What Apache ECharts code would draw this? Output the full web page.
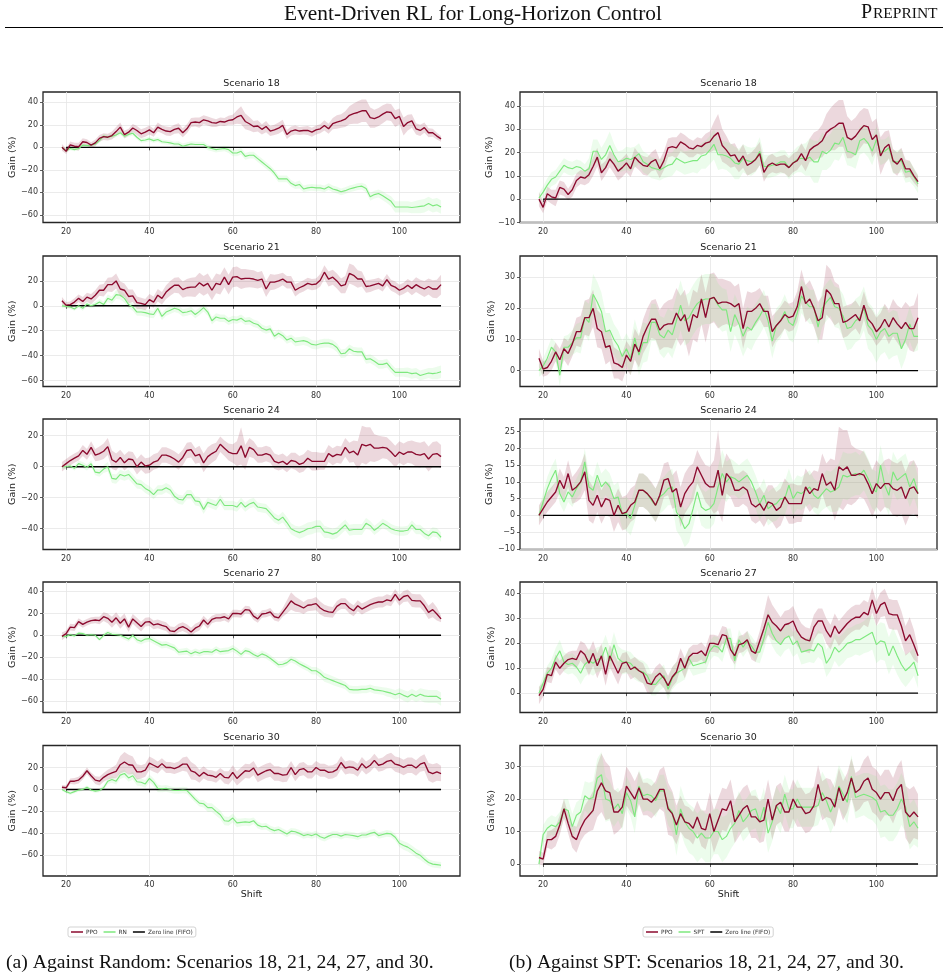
<!DOCTYPE html>
<html>
<head>
    <meta charset="utf-8">
    <title>Event-Driven RL for Long-Horizon Control</title>
    <script src="https://cdn.jsdelivr.net/npm/echarts@6/dist/echarts.min.js"></script>
    <style>
        html, body { margin: 0; padding: 0; background: #fff; }
        #main { width: 948px; height: 979px; }
    </style>
</head>
<body>
<div id="main"></div>
<script type="text/javascript">
// shift index on the x axis
var SHIFTS = [19,20,21,22,23,24,25,26,27,28,
    29,30,31,32,33,34,35,36,37,38,
    39,40,41,42,43,44,45,46,47,48,
    49,50,51,52,53,54,55,56,57,58,
    59,60,61,62,63,64,65,66,67,68,
    69,70,71,72,73,74,75,76,77,78,
    79,80,81,82,83,84,85,86,87,88,
    89,90,91,92,93,94,95,96,97,98,
    99,100,101,102,103,104,105,106,107,108,
    109,110];
var X_TICKS = [20, 40, 60, 80, 100];
var SCENARIOS = ['18', '21', '24', '27', '30'];

// PPO mean gain (%) - same curve in both columns
var PPO_18 = [0,-3.5,2.3,1,0.5,5,4.3,2,4,8,
    9.5,9,10.5,14,18,11.3,13.5,17.2,15,12,
    13.5,15.5,13,18,16,14.5,14,16,17,13,
    16.5,22,22.5,22,24.5,23.5,22,21.5,23,22.5,
    24,24.5,27,28.5,23,21,18.5,19,16,18.5,
    14.5,15.5,17,19.5,11.5,14.5,15.5,14.5,15,15,
    13.5,15.5,16.5,19.5,16.5,21,22.5,23.5,25,28.5,
    30,31,32.5,32.5,26.5,25.5,27,29.5,31.5,31,
    25.5,27.5,18.5,22,23.5,16.5,15,17.5,13,13,
    10,7.5];
var PPO_21 = [4,0.5,1,3,6,3.5,7,5.5,8.5,12.5,
    12.5,17,17,20,13.5,12.5,7.5,8,2.5,2,
    1,5,3,8.5,6,11,14,16.5,16.5,13,
    14.5,15,15,18.5,16,18,12.5,18,17,23,
    17,23,23.5,21.5,22,22,21.5,20.5,21.5,13.5,
    19,19,20,21.5,19,19,12.5,14.5,16,18,
    17,17.5,20.5,27,21.5,23,20,16,17,26,
    24.5,21.5,21.5,15.5,16,17,18,16,21,16.5,
    15,12.5,14,16.5,14,17,15,13.5,15.5,13.5,
    13.5,17];
var PPO_24 = [0,2,4,5.5,7,10.5,8,12.5,7.5,8.5,
    10,13,4.5,3,6,2.5,5,4.5,0,3,
    0.5,1,3,4,7.5,7.5,6.5,5,3,6,
    10.5,11,7,8,2.5,6.5,8.5,10,14.5,12,
    9.5,8.5,8.5,13.5,6,12.5,11,7.5,7.5,8.5,
    7.5,3.5,2.5,3.5,1.5,4,3.5,1.5,2.5,5.5,
    3.5,3.5,3.5,3.5,8.5,6.5,8,7.5,12.5,9,
    10,7.5,14.5,13.5,14.5,12,12,12.5,12,9.5,
    6.5,9.5,8,9.5,9.5,8,7.5,8.5,5,8,
    8.5,6.5];
var PPO_27 = [-1,1.5,7.5,7,12.5,10,12,13.5,14,13.5,
    17,15.5,12,16,11,15,7.5,15,11.5,8,
    12,12.5,9.5,10.5,9,8,4,3.5,6.5,8,
    6,3,6.5,8.5,14,10,14.5,16,16,17,
    15,20,20,19.5,23.5,23,17.5,15,19.5,20,
    21.5,17,16,21,26,31.5,28.5,27,25,27.5,
    28,29,25,22.5,21.5,21,26.5,29,29,25,
    22.5,27,24,26,28,29.5,30.5,30.5,32.5,31.5,
    37.5,32,35.5,36.5,32,31.5,31.5,27,21,23.5,
    19.5,15];
var PPO_30 = [2,1.5,7.5,7.5,8.5,12,17,12.5,8.5,7.5,
    11,13.5,15,16.5,22.5,25,22.5,22,16,16,
    17.5,24,22,20,23.5,20,20,19,20.5,23,
    23,17,15.5,12,15.5,13,12.5,11,14.5,11,
    10.5,15.5,10,13.5,17,16.5,19.5,13,15,17,
    18,14.5,14.5,13,13.5,20,13.5,18,19,16,
    16,20,17.5,17.5,15.5,16,18,24.5,19.5,20.5,
    20,17.5,23.5,19.5,22,26.5,22,23,25.5,26.5,
    23,22,20,22,22,19.5,23,24.5,16,14.5,
    16,14.5];

// RN (random dispatch) mean gain (%)
var RN_18 = [0,-3,-1,-2,-1,2,1.5,2,3,6,
    10,9,10,11,13,10,11.5,12.5,9,6,
    6.5,7.5,6,7,5,4.5,4,3,3,1,
    2,3,2.5,2.5,2.5,0,-1,-2,-1.5,-1,
    -2,-5,-5,-3.5,-8,-7,-7,-10,-13,-16,
    -19,-23,-28,-28,-28,-32,-34,-33,-37,-36,
    -35.5,-36,-36,-37,-35,-37,-38,-39.5,-38.5,-37,
    -36,-35,-34.5,-36.5,-44,-42,-41,-43,-45.5,-48,
    -53,-53,-53,-53,-53.5,-53,-52.5,-52,-50,-52,
    -51,-53];
var RN_21 = [0,-0.5,-1,-2.5,0,-2,1.5,0,1,3,
    1,6,4.5,9,8.5,6,1,-1,-5,-5,
    -5.5,-6.5,-7,-2,-8.5,-5,-3.5,-2,-3,-5.5,
    -5,-4,-7,-4.5,-1.5,-5,-12,-9,-10,-10,
    -12.5,-11,-11.5,-10,-12.5,-12,-14,-15,-18,-19.5,
    -18.5,-24.5,-22,-24,-27.5,-26,-29,-28.5,-28,-29,
    -31,-31.5,-30.5,-30,-30,-31,-33.5,-38.5,-38,-34.5,
    -36.5,-37,-37,-43,-42.5,-44.5,-47,-47,-46,-50,
    -53.5,-53.5,-53.5,-53.5,-54.5,-54,-56,-55,-54,-54.5,
    -54,-53];
var RN_24 = [0,0,0.5,-1,2,1,-0.5,2,-3.5,-4,
    -1.5,0,-7.5,-8,-5,-6,-5,-8,-11,-11.5,
    -14,-15.5,-18,-15,-15,-13.5,-15,-19,-21,-21.5,
    -18,-18,-22,-22.5,-27.5,-23,-24,-25,-21,-25,
    -25,-25,-26,-23,-26,-24,-23,-26,-26.5,-27,
    -30,-33,-34.5,-32.5,-36,-40,-41.5,-42.5,-41.5,-40,
    -39.5,-38.5,-38.5,-42,-42.5,-43.5,-42.5,-40,-37.5,-41,
    -40.5,-40.5,-40.5,-36.5,-38,-41,-39,-36.5,-38,-40,
    -41,-41.5,-41.5,-41,-37.5,-40.5,-40.5,-43,-44.5,-42,
    -42.5,-45.5];
var RN_27 = [-1,-1,0.5,-0.5,2,1.5,0,0.5,0,-4,
    0,2.5,1,0.5,0,-1.5,-3.5,0,-4,-5.5,
    -3.5,-3,-5,-7,-9,-8.5,-10,-11.5,-15.5,-15,
    -14.5,-17,-15,-16.5,-15,-15,-15.5,-13,-15,-14.5,
    -14,-12,-14.5,-17.5,-14,-15,-17.5,-19.5,-17,-18.5,
    -21,-24,-27,-26.5,-25,-22,-23.5,-26,-28,-30,
    -32.5,-32.5,-35,-38.5,-40,-41.5,-43,-44.5,-46,-49.5,
    -50,-50,-49.5,-49.5,-48.5,-50,-50.5,-51,-52,-53,
    -54.5,-53,-55,-56.5,-54,-56,-54,-55.5,-56,-56,
    -56,-58.5];
var RN_30 = [0,-2,-3.5,-2,-0.5,0,2,-0.5,-1.5,-1,
    1.5,7.5,9,7.5,13,14.5,10.5,12.5,7,6.5,
    5,10,6.5,1,0.5,1,0,-1,-1,-0.5,
    -1,-5,-9,-12.5,-13,-16.5,-16.5,-20,-23,-28.5,
    -29,-26,-30.5,-30,-29.5,-30,-28.5,-32.5,-34,-33.5,
    -36,-37.5,-36.5,-38.5,-40.5,-38,-38.5,-40,-42,-41,
    -42,-40.5,-43,-44.5,-42.5,-41,-41,-42.5,-41,-41.5,
    -42,-43,-41.5,-41.5,-40,-39,-42,-41,-40,-40.5,
    -43.5,-49,-51,-52.5,-55,-58,-60,-63.5,-66.5,-68,
    -68.5,-69];

// SPT mean gain (%)
var SPT_18 = [0.5,3,6,8.5,9.5,12,14.5,13.5,13,14,
    13.5,12,13,20.5,20.5,17,19,23,19,16,
    16.5,17.5,17,18,19.5,16,15,13.5,13,12.5,
    13.5,14.5,15,17.5,16.5,15.5,16,16.5,16.5,18.5,
    19,21,23.5,19,19,18.5,17.5,15.5,15,17.5,
    16.5,16,17,20.5,14,14,14.5,15,16,16,
    13.5,15.5,17,17.5,17,18,16,16,20.5,19.5,
    21,24,23.5,26.5,20.5,20,19,25,26,24,
    20.5,25.5,20,20.5,22,16,16,16.5,11.5,12,
    9.5,6.5];
var SPT_21 = [0,1.5,4,7.5,6,-1.5,7.5,7.5,9,10.5,
    10.5,17,15.5,24.5,22,19,12.5,13,10,8,
    4.5,7,4,10.5,5,9,9,15.5,15.5,11.5,
    10.5,13,11.5,16,21,16,17,19.5,21.5,22.5,
    23,23,23.5,21,19.5,19.5,12.5,18,15,11,
    14,13,15.5,17.5,20,16,9.5,14.5,16,19,
    15.5,14.5,18.5,24,22,20.5,20.5,14,20,22,
    23.5,20.5,20,17.5,13.5,14,16,17,20,14.5,
    13,10,12.5,13.5,11,12,12,7,10,15,
    11,11];
var SPT_24 = [0,4,8,11,13.5,6.5,4,7,5.5,8,
    10,16,8.5,7.5,12,8.5,10,8.5,5,5.5,
    0.5,0.5,-1,3,7.5,7.5,6.5,4.5,3,5.5,
    6.5,8,8.5,1,-1,-4,-2.5,2,7,2.5,
    1.5,2,3.5,8.5,12.5,10,11.5,11,10,11,
    12,10,7,3.5,6,2,3,3.5,5,5,
    9,5,7,6.5,7.5,8.5,6,5,6.5,8,
    7,7.5,8.5,12,11.5,12,12.5,12,13.5,11,
    8,7,15,9,6,13,10.5,11.5,12.5,8.5,
    11,6.5];
var SPT_27 = [0,4,8,10,14,17,12.5,11.5,12,10.5,
    8,11.5,13,12,13.5,14,18.5,13,19.5,14,
    12.5,12.5,12,10,9,8.5,7,3.5,3.5,5.5,
    7,1.5,6,8,9,10,14,11,11.5,12,
    12.5,17,19,18.5,16.5,22,22,13,21.5,18.5,
    21,19,16.5,16.5,22,28.5,24,21,19.5,22,
    23,19.5,21,16.5,17,17.5,17,20,18.5,12,
    14.5,18.5,16.5,18,20,20.5,21.5,21.5,22.5,23.5,
    24.5,19.5,21,20.5,15,19,15,11.5,9,10.5,
    12.5,7];
var SPT_30 = [0,9,11,12,11.5,13,17,16.5,11.5,15,
    16,21,20,20.5,26.5,27.5,20,19.5,17,18.5,
    15.5,22,19.5,14.5,24,21,21.5,21,19.5,22.5,
    22.5,17.5,16,9,17,13,11,10,8,9.5,
    8,8,10,10,7.5,8.5,11,12.5,16.5,13,
    14.5,16.5,17,13,17.5,9.5,13,18,15.5,21.5,
    17,17,20,17.5,17.5,17.5,17.5,18,22,19.5,
    16,19,24,21.5,19,27,20.5,21,21.5,21,
    20.5,19.5,16,16.5,15,15,17,20,17.5,11.5,
    13,11];

// half-width of the shaded spread around each mean
var PPO_18_SD = [3,2.5,3,3,3.5,3,3,2.5,3,3,
    3,3,3.5,4,4,3.5,3,3.5,4,4,
    4,4,3.5,4,3.5,4,4,4,4.5,4,
    4,4,4,4.5,4,4,4,3.5,3.5,3.5,
    4,4.5,6,8,7,6,5,5,4.5,5,
    4.5,4.5,5,5,4,4,4,3.5,3.5,4,
    4,4,4,4.5,4.5,5,6,6,7,8,
    9,10,10,10,9,8,8,8,7.5,7.5,
    7.5,7,8,7,6,5,5,4.5,4,3.5,
    3,2.5];
var PPO_21_SD = [3,2.5,2.5,3,3,3.5,3.5,4,4,4.5,
    5,5.5,6,6,6,5.5,5.5,5,5,4.5,
    4.5,4.5,4.5,5,5,5.5,6,6,6.5,6.5,
    7,7.5,8,8,8,8,8,8,8,8,
    8,8,8,8,7.5,7,7,6.5,6.5,6.5,
    6.5,6,5.5,5,5,5,5,4.5,4.5,4.5,
    4.5,4.5,5,5.5,6,6,6,6,7,8,
    8,7,6,5,5,4.5,4.5,4.5,4.5,4.5,
    4.5,4.5,4.5,5,5.5,6,6,6.5,6.5,7,
    7.5,8];
var PPO_24_SD = [3,3,3,3,3,3.5,3.5,4,4,4.5,
    5,5.5,6,5.5,5,5,5,5,5,5,
    5,5,5,5,5,5,5,5,5,5,
    5,5,5,5.5,6,6,6,5.5,5,5,
    5.5,6,8,12,8,6,5.5,5,5,5,
    5,5,5,5,5,5,5.5,5.5,5.5,5.5,
    6,6,5.5,5.5,5.5,5.5,5.5,5.5,6,6.5,
    7,9,12,12,11,9,8,7,7,7,
    7,7,7,7,7.5,8,8,8,8,8,
    8,7.5];
var PPO_27_SD = [3.5,3,3,3,3,3,3,3,3,3.5,
    4,4.5,5,5,5,5,4.5,4.5,4.5,4.5,
    4,4,4,4,4,4,4,4,4,4,
    4,4,4,4,4,4,3.5,3.5,3.5,3.5,
    3.5,3.5,3.5,3.5,3.5,3.5,3.5,3.5,3.5,3.5,
    3.5,3.5,3.5,4,6,8,7,6,5.5,5.5,
    5.5,6,6,5.5,5,5,5,5,5,5,
    5,5,5,5,5,5,5,5,5,5,
    5,5,5,5.5,6,6,6,6,6,7,
    6,3];
var PPO_30_SD = [2,2,2.5,3,3,3,3,3,3.5,4,
    4,4.5,5,6,8,9,9,8,7,6,
    6,6,6,5.5,5,5,5,5,5,6,
    7,8,7,6,5.5,5,5,5,5,5.5,
    6,6.5,6.5,6.5,6.5,6.5,6.5,6.5,6.5,6.5,
    6.5,6.5,6.5,6.5,6.5,6,6,6,6,6,
    6,6,6,6,6,6,6,6,6,6,
    6,6,6,6,6,6,6,6,6.5,7,
    7,7,7,7,7,7,7,7.5,8,8.5,
    8,7];

var RN_18_SD = [1.5,1.5,1.5,1.5,1.5,1.5,1.5,1.5,1.5,2,
    2,2,2,2,2,2,2,2,2,2,
    2,2,2,2,2,2,2,2,2.5,2.5,
    2.5,2.5,2.5,2.5,2.5,2.5,2.5,2.5,2.5,2.5,
    3,3,3,3,3,3,3,3,3,3,
    3,3,3,3,3,3,3,3.5,3,3,
    3,3,3,3,3,3,3,3,3,3,
    3,3,3,3.5,3.5,3.5,3.5,4,4,4.5,
    5,5,5,5,5,5.5,6,6,6,6,
    6,6];
var RN_21_SD = [1.5,1.5,1.5,1.5,1.5,2,2,2,2,2.5,
    2.5,3,3,3.5,3.5,3.5,3,3,3,3,
    3,3,3,3,3,3,3,3,3,3,
    3,3,3,3,3,3,3,3,3,3,
    3,3,3,3,3,3,3,3,3,3,
    3,3,3,3,3,3,3.5,3.5,3.5,3.5,
    3.5,3.5,3.5,3.5,3.5,3.5,3.5,3.5,3.5,3.5,
    3.5,3.5,3.5,3.5,3.5,3.5,3.5,3.5,3.5,3.5,
    3.5,3.5,3.5,4,4,4,4,4,4,4.5,
    5,5];
var RN_24_SD = [1.5,1.5,1.5,1.5,2,2,2,2,2,2.5,
    2.5,3,3,3,3,3,3,3,3,3,
    3,3,3,3,3,3,3,3,3,3,
    3,3,3,3,3,3,3,3,3,3,
    3,3,3,3,3,3,3,3,3,3,
    3,3,3,3.5,3.5,3.5,3.5,4,4,4,
    4,4,4,4,3.5,3.5,3.5,3.5,3.5,3.5,
    3.5,3.5,3.5,3.5,3,3,3,3,3,3,
    3,3,3,3,3,3,3,3,3,3,
    3,3];
var RN_27_SD = [1.5,1.5,1.5,1.5,1.5,1.5,1.5,1.5,1.5,1.5,
    2,2,2,2,2,2.5,2.5,2.5,3,3,
    3,3,3,3,3,3,3,3,3,3,
    3,3,3,3,3,3,3,3,3,3,
    3,3,3,3,3,3,3,3,3,3,
    3,3,3,3,3,3,3,3,3,3,
    3.5,3.5,4,4,4,4,4,3.5,3.5,3.5,
    3.5,3.5,3.5,3.5,3.5,3.5,3.5,3.5,4,4,
    4.5,4.5,5,5,5,5,5.5,6,6,6,
    6,6];
var RN_30_SD = [1.5,1.5,1.5,1.5,1.5,1.5,1.5,1.5,1.5,1.5,
    2,2.5,3,3,3.5,3.5,3.5,3.5,3.5,3.5,
    3.5,3.5,3.5,3.5,3,3,3,3,3,3,
    3,3,3,3,3.5,4,4,4,4,4,
    4,4,4,3.5,3.5,3.5,3,3,3,3,
    3,3,3,3,3,3,3,3,3,3,
    3,3,3,3,3,3,3,3,3,3,
    3,3,3,3,3,3,3,3,3,3,
    3,3.5,4,4,4,4,4,3.5,3,3,
    3,3];

var SPT_18_SD = [2,2.5,3,3,3,3,3,3,3,3,
    3,3,4.5,5,5,5,6,6,5,4.5,
    4.5,5,5,4.5,4.5,4.5,4.5,4.5,4.5,4.5,
    4.5,5,5,5,5,5,5,5,5.5,5.5,
    6,6,6.5,6.5,6,6,6.5,7,6.5,6,
    6,6,5.5,6,5,5,5,5,5,5,
    5,5,5.5,6,7,8,9,9,8,7,
    7,7,7,6.5,6,6,6,6,6,6,
    6,5.5,5.5,5,5,5,5,5,4.5,4.5,
    4,4];
var SPT_21_SD = [2,2.5,3,3,3,3.5,3.5,4,4,4.5,
    5,5.5,6,6.5,6.5,6,6,5.5,5,5,
    5,5,5.5,6,6.5,6.5,6,6,6,6,
    6.5,7,7.5,8,8,8,8,8,8,8,
    8,8,7.5,7,7,6.5,6.5,6.5,6.5,6.5,
    6.5,6.5,6,6,6,5.5,5.5,5.5,5.5,5.5,
    5.5,5.5,5.5,5.5,5.5,5.5,5.5,5.5,6,6,
    6,6.5,6.5,7,7,7,7,7,7,7.5,
    7.5,7.5,7.5,7.5,7.5,7.5,7,6.5,6,5.5,
    5,4.5];
var SPT_24_SD = [2,3,3.5,3.5,3.5,3,3,3,3,3,
    3.5,4,4,4,4,4,4,4,4,4.5,
    4.5,5,5,5,5,5,5,5,5,5,
    5,5,5.5,5.5,5.5,5.5,5.5,5.5,5.5,5.5,
    5.5,6,6,6,7,6,5.5,5,5,5,
    5,5,5,5,5,5,5,5,5,5,
    5,5,5,5,5,5,5,5,5,5.5,
    6,6.5,7,7,7,6.5,6.5,6,6,6,
    6,6,6,6,6,6,6,6,6,6,
    5.5,5];
var SPT_27_SD = [2.5,3,3,3.5,4,4.5,4,4,4,4,
    4.5,5,5,5,5,5,5,5,5,5,
    5,4.5,4.5,4.5,4.5,4.5,4.5,4.5,4.5,4.5,
    4.5,4.5,4.5,4.5,4.5,4.5,4,4,4,4,
    4,4,4,4,4,4,4,4,4,4,
    4,4,4,4.5,5,5,5,5,5,5,
    5,5,5,5,5,5,5,5.5,5.5,5.5,
    5.5,5.5,6,6,6,6,6,6.5,6.5,7,
    7,7.5,7.5,7.5,7.5,7.5,7.5,7,6.5,6,
    5.5,5];
var SPT_30_SD = [2,3,3,3,3,3,3,3.5,4,4,
    4,4.5,5,5,6,7,7,6,5.5,5,
    5,5,5,5,5,5,5,5,5,5,
    5,5.5,6,6.5,7,7,7.5,7.5,7.5,7.5,
    7.5,7.5,7,7,7,6.5,6.5,6,6,6,
    6,6,6,6,6,6,6,6,6,6,
    6,6,6,6,6,6,6,6,6.5,6.5,
    6.5,6.5,6.5,6.5,6.5,6.5,6.5,6.5,6.5,7,
    7,7.5,8,8,8,8,8,8,7.5,7,
    7,6];

// y-axis limits and tick labels, left column (vs RN) then right column (vs SPT)
var Y_LIM_RN  = [[-66.8, 49.2], [-64.8, 40], [-53.4, 30.8], [-70.7, 48.8], [-78.8, 40]];
var Y_LIM_SPT = [[-10, 45.9], [-5.1, 36.8], [-10.2, 28.8], [-7.8, 44.7], [-3.7, 36.5]];
var Y_TICKS_RN  = [[-60,-40,-20,0,20,40], [-60,-40,-20,0,20], [-40,-20,0,20], [-60,-40,-20,0,20,40], [-60,-40,-20,0,20]];
var Y_TICKS_SPT = [[-10,0,10,20,30,40], [0,10,20,30], [-10,-5,0,5,10,15,20,25], [0,10,20,30,40], [0,10,20,30]];

var PPO_ALL = [PPO_18, PPO_21, PPO_24, PPO_27, PPO_30];
var PPO_SD_ALL = [PPO_18_SD, PPO_21_SD, PPO_24_SD, PPO_27_SD, PPO_30_SD];
var RN_ALL = [RN_18, RN_21, RN_24, RN_27, RN_30];
var RN_SD_ALL = [RN_18_SD, RN_21_SD, RN_24_SD, RN_27_SD, RN_30_SD];
var SPT_ALL = [SPT_18, SPT_21, SPT_24, SPT_27, SPT_30];
var SPT_SD_ALL = [SPT_18_SD, SPT_21_SD, SPT_24_SD, SPT_27_SD, SPT_30_SD];

var PPO_COLOR = '#8b0a2e';
var BASE_COLOR = '#7ee87e';
var PPO_FILL = 'rgba(139,10,46,0.16)';
var BASE_FILL = 'rgba(144,238,144,0.17)';

var COL_LEFT = [43, 520];
var GRID_W = 417;
var ROW_TOP = [92, 256, 419, 582, 745.5];
var GRID_H = 130.5;
var TICK_FONT = 'DejaVu Sans';

var myChart = echarts.init(document.getElementById('main'));

function minusFmt(v) {
    return v < 0 ? '\u2212' + Math.abs(v) : String(v);
}

// shaded mean +/- spread, drawn as one polygon through the axes' own coords
function bandSeries(gi, mean, sd, color) {
    var pts = SHIFTS.map(function (x, i) {
        return [x, mean[i] - sd[i], mean[i] + sd[i]];
    });
    return {
        type: 'custom',
        name: 'band',
        xAxisIndex: gi,
        yAxisIndex: gi,
        silent: true,
        z: 1,
        data: pts,
        encode: { x: 0, y: [1, 2] },
        renderItem: function (params, api) {
            if (params.dataIndex !== 0) return null;
            var up = [], lo = [];
            for (var i = 0; i < pts.length; i++) {
                up.push(api.coord([pts[i][0], pts[i][2]]));
                lo.push(api.coord([pts[i][0], pts[i][1]]));
            }
            return {
                type: 'polygon',
                shape: { points: up.concat(lo.reverse()) },
                style: { fill: color }
            };
        }
    };
}

function pairs(vals) {
    return SHIFTS.map(function (x, i) { return [x, vals[i]]; });
}

var grids = [], xAxes = [], yAxes = [], series = [], graphics = [];

for (var c = 0; c < 2; c++) {
    for (var r = 0; r < 5; r++) {
        var gi = c * 5 + r;
        var lim = c === 0 ? Y_LIM_RN[r] : Y_LIM_SPT[r];
        var yt = c === 0 ? Y_TICKS_RN[r] : Y_TICKS_SPT[r];
        var base = c === 0 ? RN_ALL[r] : SPT_ALL[r];
        var baseSd = c === 0 ? RN_SD_ALL[r] : SPT_SD_ALL[r];
        var baseName = c === 0 ? 'RN' : 'SPT';

        grids.push({
            left: COL_LEFT[c], top: ROW_TOP[r], width: GRID_W, height: GRID_H,
            show: true, borderColor: '#262626', borderWidth: 1.3,
            backgroundColor: 'transparent'
        });
        xAxes.push({
            type: 'value', gridIndex: gi, min: 14.45, max: 114.55,
            axisLine: { show: false },
            axisTick: { show: true, length: 3, customValues: X_TICKS, lineStyle: { color: '#333', width: 0.8 } },
            axisLabel: { customValues: X_TICKS, fontSize: 8, color: '#333', margin: 5, fontFamily: TICK_FONT },
            splitLine: { show: true, lineStyle: { color: '#e6e6e6', width: 0.8 } },
            name: r === 4 ? 'Shift' : '',
            nameLocation: 'middle', nameGap: 14,
            nameTextStyle: { fontSize: 9.5, color: '#222', fontFamily: TICK_FONT }
        });
        yAxes.push({
            type: 'value', gridIndex: gi, min: lim[0], max: lim[1],
            axisLine: { show: false },
            axisTick: { show: true, length: 3, customValues: yt, lineStyle: { color: '#333', width: 0.8 } },
            axisLabel: { customValues: yt, fontSize: 8, color: '#333', margin: 5, fontFamily: TICK_FONT, formatter: minusFmt },
            splitLine: { show: true, lineStyle: { color: '#e6e6e6', width: 0.8 } },
            name: 'Gain (%)', nameLocation: 'middle', nameGap: c === 0 ? 25 : 23,
            nameTextStyle: { fontSize: 9.5, color: '#222', fontFamily: TICK_FONT }
        });

        series.push(bandSeries(gi, PPO_ALL[r], PPO_SD_ALL[r], PPO_FILL));
        series.push(bandSeries(gi, base, baseSd, BASE_FILL));
        series.push({
            type: 'line', name: 'Zero line (FIFO)', xAxisIndex: gi, yAxisIndex: gi,
            data: [[20, 0], [110, 0]], symbol: 'none', z: 3, silent: true,
            itemStyle: { color: '#000' }, lineStyle: { color: '#000', width: 1.4 }
        });
        series.push({
            type: 'line', name: baseName, xAxisIndex: gi, yAxisIndex: gi,
            data: pairs(base), symbol: 'none', z: 4, silent: true,
            itemStyle: { color: BASE_COLOR }, lineStyle: { color: BASE_COLOR, width: 1.15 }
        });
        series.push({
            type: 'line', name: 'PPO', xAxisIndex: gi, yAxisIndex: gi,
            data: pairs(PPO_ALL[r]), symbol: 'none', z: 5, silent: true,
            itemStyle: { color: PPO_COLOR }, lineStyle: { color: PPO_COLOR, width: 1.35 }
        });

        graphics.push({
            type: 'text', x: COL_LEFT[c] + GRID_W / 2, y: ROW_TOP[r] - 8,
            style: {
                text: 'Scenario ' + SCENARIOS[r], fill: '#222',
                font: '9.5px "DejaVu Sans"', textAlign: 'center', textVerticalAlign: 'middle'
            }
        });
    }
}

// page header and captions
graphics.push({
    type: 'text', x: 473, y: 14,
    style: { text: 'Event-Driven RL for Long-Horizon Control', fill: '#111',
        font: '21.4px "Liberation Serif"', textAlign: 'center', textVerticalAlign: 'middle' }
});
graphics.push({
    type: 'text', x: 861, y: 22.5,
    style: { text: 'P', fill: '#111', font: '20px "Liberation Serif"', textAlign: 'left', textVerticalAlign: 'bottom' }
});
graphics.push({
    type: 'text', x: 873, y: 22,
    style: { text: 'REPRINT', fill: '#111', font: '15.5px "Liberation Serif"', textAlign: 'left', textVerticalAlign: 'bottom' }
});
graphics.push({
    type: 'line', shape: { x1: 5, y1: 27.5, x2: 943, y2: 27.5 },
    style: { stroke: '#000', lineWidth: 1 }
});
graphics.push({
    type: 'text', x: 6, y: 963,
    style: { text: '(a) Against Random: Scenarios 18, 21, 24, 27, and 30.', fill: '#111',
        font: '19.7px "Liberation Serif"', textAlign: 'left', textVerticalAlign: 'middle' }
});
graphics.push({
    type: 'text', x: 509, y: 963,
    style: { text: '(b) Against SPT: Scenarios 18, 21, 24, 27, and 30.', fill: '#111',
        font: '19.7px "Liberation Serif"', textAlign: 'left', textVerticalAlign: 'middle' }
});

var legendBase = {
    top: 927, orient: 'horizontal', icon: 'rect',
    itemWidth: 12, itemHeight: 1.5, itemGap: 6,
    padding: [2, 3], borderColor: '#c8c8c8', borderWidth: 0.8, borderRadius: 2,
    backgroundColor: '#fff', selectedMode: false,
    textStyle: { fontSize: 5.8, color: '#333', fontFamily: TICK_FONT, padding: [0, 0, 0, -2] }
};

option = {
    animation: false,
    backgroundColor: '#fff',
    grid: grids,
    xAxis: xAxes,
    yAxis: yAxes,
    series: series,
    legend: [
        Object.assign({}, legendBase, { left: 68, data: ['PPO', 'RN', 'Zero line (FIFO)'] }),
        Object.assign({}, legendBase, { left: 643, data: ['PPO', 'SPT', 'Zero line (FIFO)'] })
    ],
    graphic: graphics
};

if (option && typeof option === "object") {
    myChart.setOption(option, true);
}
</script>
</body>
</html>
